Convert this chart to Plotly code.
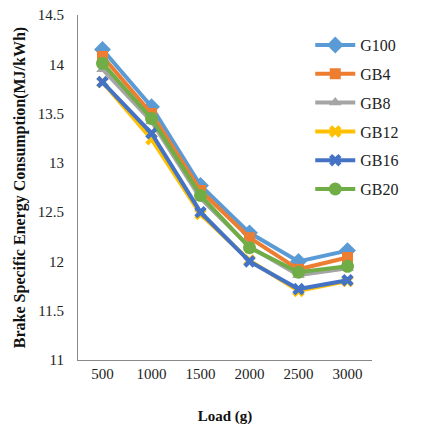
import plotly.graph_objects as go

loads = ["500", "1000", "1500", "2000", "2500", "3000"]
series_names = ["G100", "GB4", "GB8", "GB12", "GB16", "GB20"]
g100 = [14.15, 13.57, 12.77, 12.29, 12.00, 12.11]
gb4 = [14.08, 13.50, 12.72, 12.24, 11.92, 12.04]
gb8 = [13.95, 13.42, 12.64, 12.15, 11.86, 11.93]
gb12 = [13.82, 13.24, 12.48, 12.01, 11.70, 11.80]
gb16 = [13.82, 13.30, 12.50, 12.00, 11.72, 11.81]
gb20 = [14.01, 13.45, 12.67, 12.14, 11.89, 11.95]
values = [g100, gb4, gb8, gb12, gb16, gb20]

colors = ["#5B9BD5", "#ED7D31", "#A5A5A5", "#FFC000", "#4472C4", "#70AD47"]
symbols = ["diamond", "square", "triangle-up", "x", "x", "circle"]
sizes = [13, 11, 11, 11, 11, 13]

fig = go.Figure()
for name, vals, c, s, sz in zip(series_names, values, colors, symbols, sizes):
    fig.add_trace(go.Scatter(
        x=loads, y=vals, name=name, legendgroup=name, mode="lines+markers",
        line=dict(color=c, width=4),
        marker=dict(symbol=s, size=sz, color=c, line=dict(width=0)),
    ))

font_family = "Liberation Serif, Times New Roman, serif"
fig.update_layout(
    width=447, height=426,
    margin=dict(l=78, r=75, t=15, b=66),
    plot_bgcolor="white", paper_bgcolor="white",
    font=dict(family=font_family, size=15, color="#222"),
    showlegend=True,
    legend=dict(x=0.79, y=0.962, xanchor="left", yanchor="top",
                font=dict(family=font_family, size=16, color="#222"),
                bgcolor="rgba(0,0,0,0)", itemwidth=40, tracegroupgap=5),
    xaxis=dict(
        type="category", range=[-0.5, 5.5], automargin=False,
        showgrid=False, zeroline=False, showline=True, linecolor="#888", linewidth=1,
        ticks="", tickfont=dict(size=15, color="#222"),
        title=dict(text="<b>Load (g)</b>", font=dict(size=15, color="#111"), standoff=29),
    ),
    yaxis=dict(
        range=[11, 14.5], dtick=0.5, automargin=False,
        showgrid=False, zeroline=False, showline=True, linecolor="#888", linewidth=1,
        ticks="", tickfont=dict(size=15, color="#222"), ticklabelstandoff=10,
        title=dict(text="<b>Brake Specific Energy Consumption(MJ/kWh)</b>", font=dict(size=16, color="#111"), standoff=8),
    ),
)

fig.write_html("out.html")
